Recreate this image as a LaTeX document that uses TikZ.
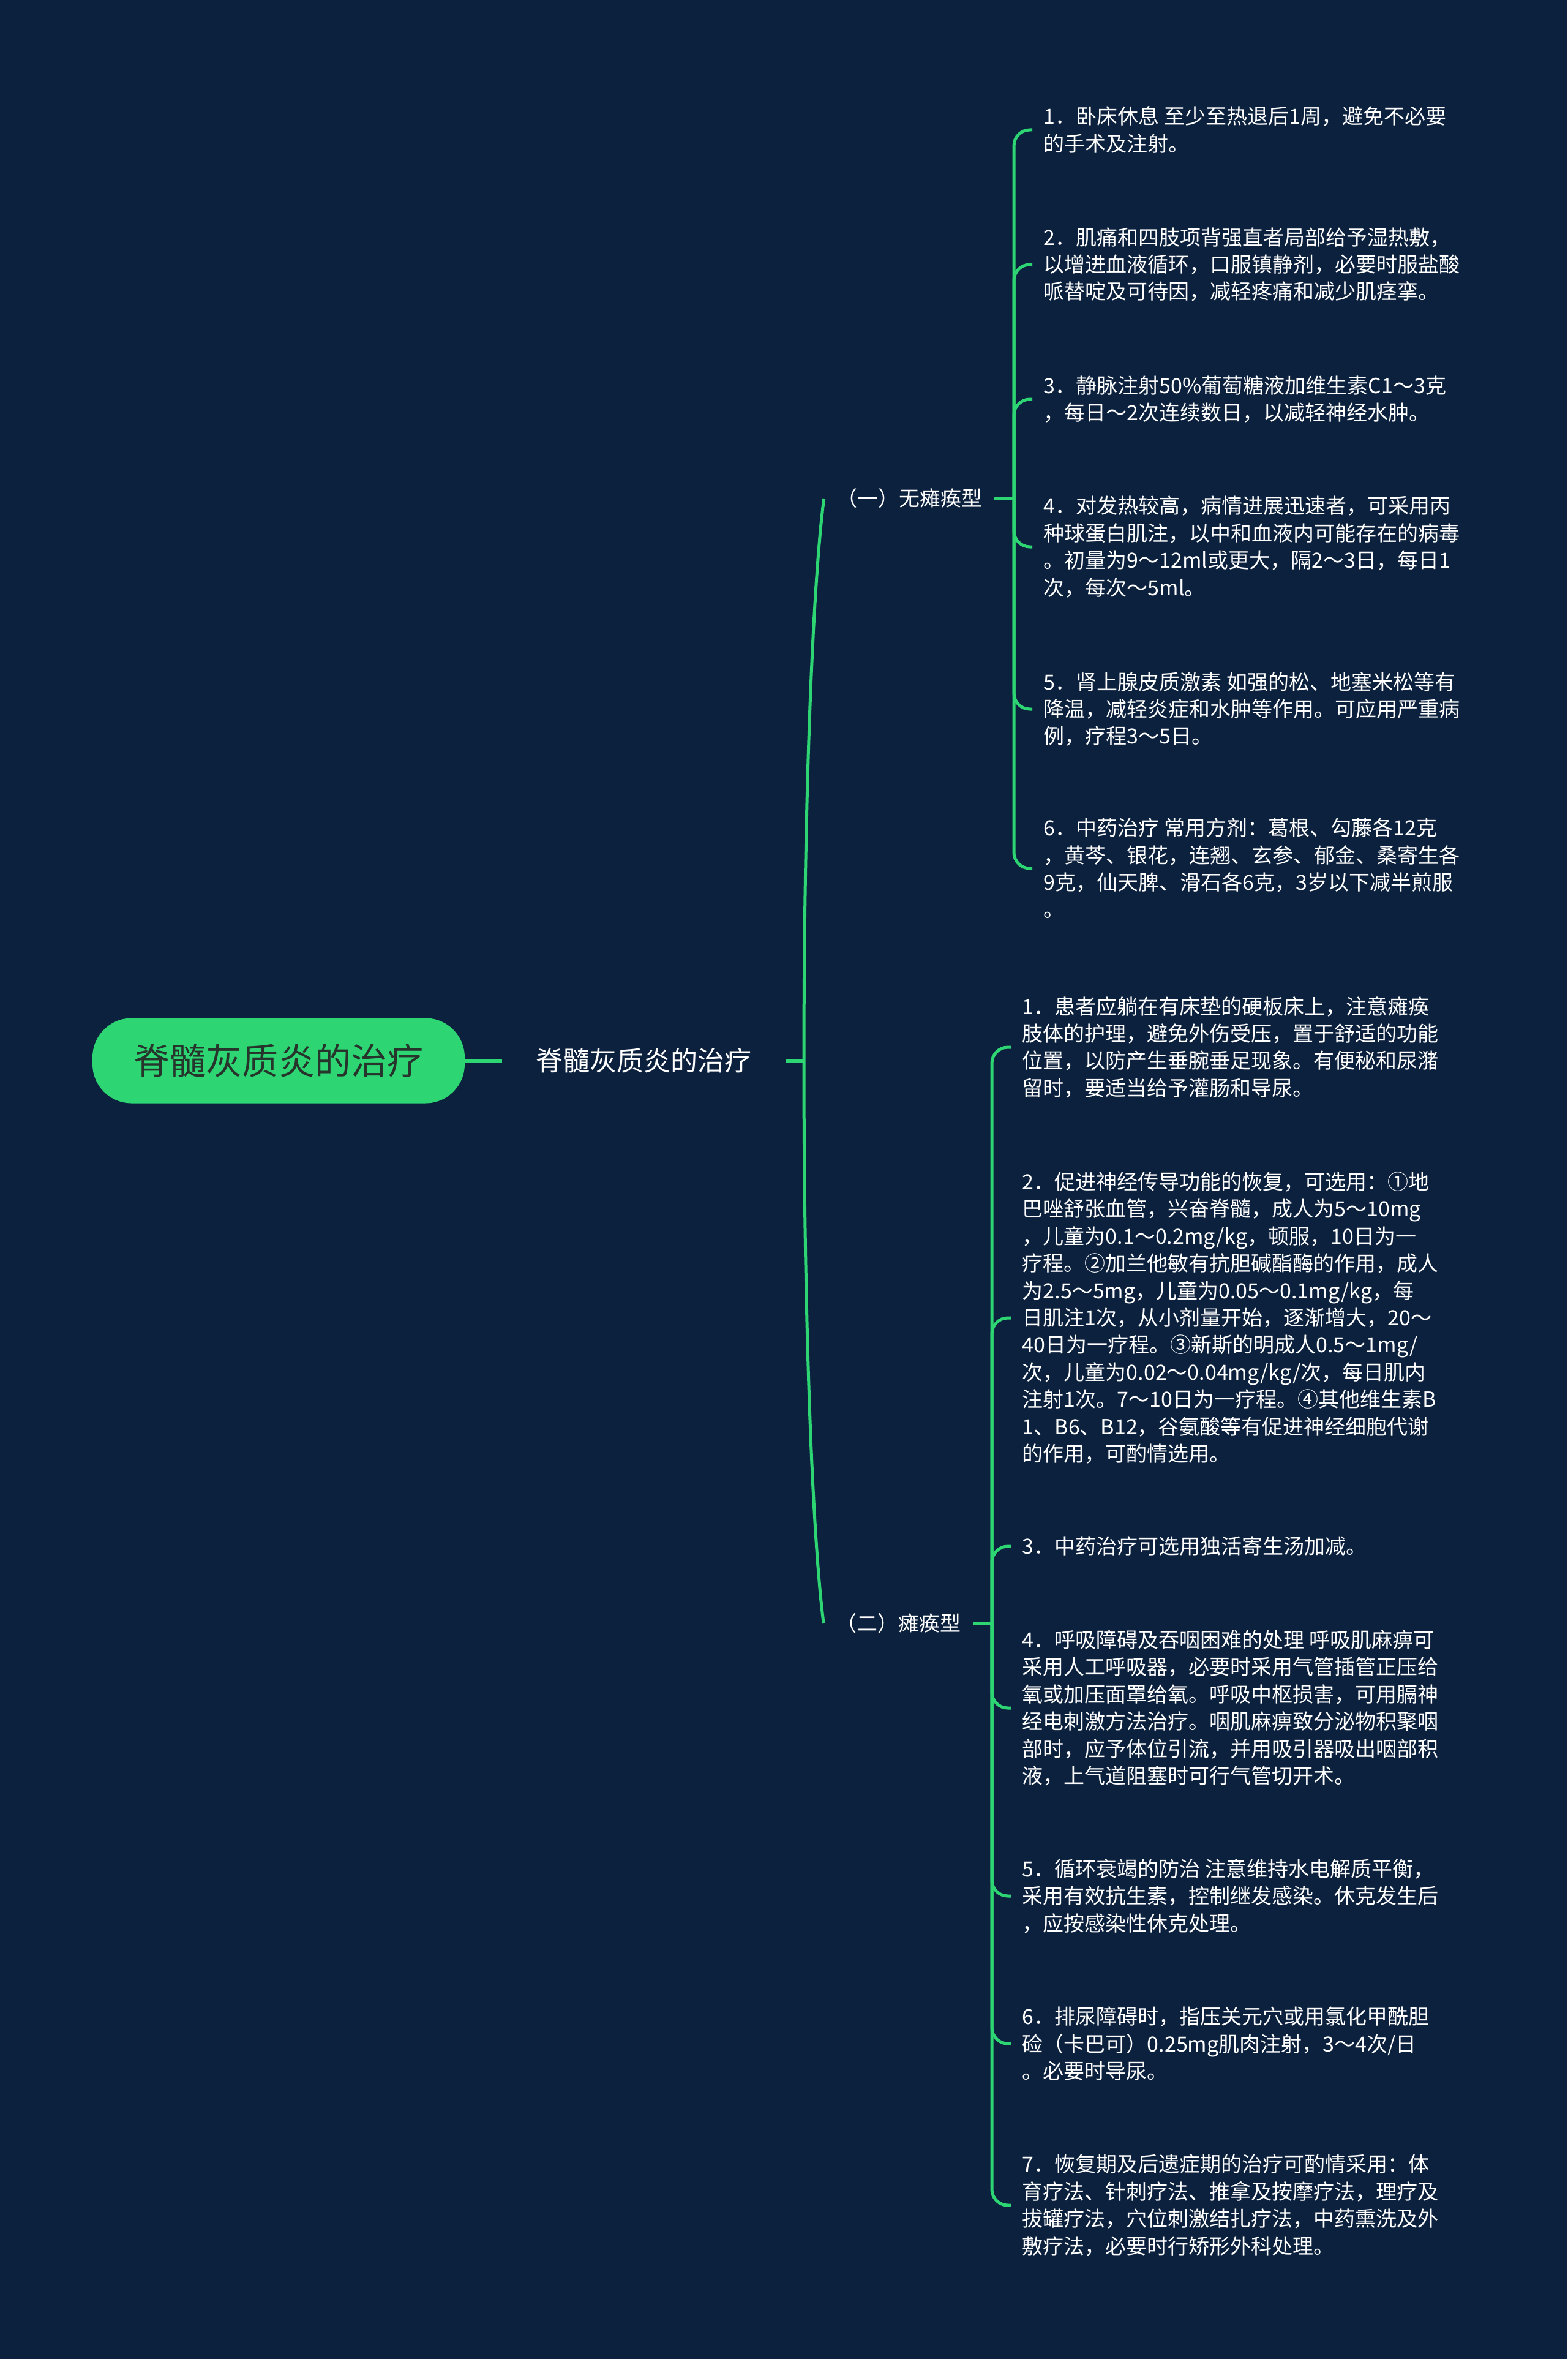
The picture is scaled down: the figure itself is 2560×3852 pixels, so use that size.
\documentclass[tikz,border=0pt]{standalone}
\usepackage{fontspec}
\setmainfont{Noto Sans CJK SC}
\usepackage{tikz}
\usetikzlibrary{calc}
\definecolor{grund}{RGB}{12,33,62}
\definecolor{zweig}{RGB}{46,213,115}
\definecolor{kern}{RGB}{38,52,44}

\begin{document}
\begin{tikzpicture}[x=0.25pt, y=-0.25pt,
	ast/.style={draw=zweig, line width=1.25pt},
	knick/.style={ast, rounded corners=6.5pt},
	typ/.style={text=white, inner sep=0pt, font=\fontsize{8.5pt}{11.1pt}\selectfont},
	blatt/.style={anchor=west, align=left, text=white, inner xsep=4.5pt, inner ysep=0pt, font=\fontsize{8.5pt}{11.1pt}\selectfont}]

	\fill[grund] (0,0) rectangle (2560,3852);

	\node[fill=zweig, rounded corners=16pt, minimum width=152pt, minimum height=34.75pt, inner sep=0pt, text=kern, font=\fontsize{14.8pt}{16pt}\selectfont] (wurzel) at (455,1732) {脊髓灰质炎的治疗};
	\node[text=white, minimum width=115.25pt, inner sep=0pt, font=\fontsize{11pt}{13pt}\selectfont] (thema) at (1051.5,1732) {脊髓灰质炎的治疗};

	\node[typ, minimum width=69.25pt] (typ1) at (1485,814) {（一）无瘫痪型};
	\node[typ, minimum width=60.75pt] (typ2) at (1467.5,2651) {（二）瘫痪型};

	\coordinate (mitte) at (1313,1732);
	\coordinate (t1) at (1656,814);
	\coordinate (t2) at (1620,2651);

	\draw[ast] (wurzel.east) -- (thema.west);
	\draw[ast] (thema.east) -- (mitte);
	\draw[ast] (mitte) .. controls +(0,-432) and +(-18,138) .. (typ1.west);
	\draw[ast] (mitte) .. controls +(0,432) and +(-18,-138) .. (typ2.west);
	\draw[ast] (typ1.east) -- (t1);
	\draw[ast] (typ2.east) -- (t2);

	% (一) 无瘫痪型
	\node[blatt] (a1) at (1686,212) {1．卧床休息 至少至热退后1周，避免不必要\\的手术及注射。};
	\node[blatt] (a2) at (1686,432) {2．肌痛和四肢项背强直者局部给予湿热敷，\\以增进血液循环，口服镇静剂，必要时服盐酸\\哌替啶及可待因，减轻疼痛和减少肌痉挛。};
	\node[blatt] (a3) at (1686,652) {3．静脉注射50\%葡萄糖液加维生素C1～3克\\，每日～2次连续数日，以减轻神经水肿。};
	\node[blatt] (a4) at (1686,893) {4．对发热较高，病情进展迅速者，可采用丙\\种球蛋白肌注，以中和血液内可能存在的病毒\\。初量为9～12ml或更大，隔2～3日，每日1\\次，每次～5ml。};
	\node[blatt] (a5) at (1686,1158) {5．肾上腺皮质激素 如强的松、地塞米松等有\\降温，减轻炎症和水肿等作用。可应用严重病\\例，疗程3～5日。};
	\node[blatt] (a6) at (1686,1418) {6．中药治疗 常用方剂：葛根、勾藤各12克\\，黄芩、银花，连翘、玄参、郁金、桑寄生各\\9克，仙天脾、滑石各6克，3岁以下减半煎服\\。};

	\foreach \n in {a1,a2,a3,a4,a5,a6}
		\draw[knick] (t1) |- (\n.west);

	% (二) 瘫痪型
	\node[blatt] (b1) at (1651,1710) {1．患者应躺在有床垫的硬板床上，注意瘫痪\\肢体的护理，避免外伤受压，置于舒适的功能\\位置，以防产生垂腕垂足现象。有便秘和尿潴\\留时，要适当给予灌肠和导尿。};
	\node[blatt] (b2) at (1651,2152) {2．促进神经传导功能的恢复，可选用：①地\\巴唑舒张血管，兴奋脊髓，成人为5～10mg\\，儿童为0.1～0.2mg/kg，顿服，10日为一\\疗程。②加兰他敏有抗胆碱酯酶的作用，成人\\为2.5～5mg，儿童为0.05～0.1mg/kg，每\\日肌注1次，从小剂量开始，逐渐增大，20～\\40日为一疗程。③新斯的明成人0.5～1mg/\\次，儿童为0.02～0.04mg/kg/次，每日肌内\\注射1次。7～10日为一疗程。④其他维生素B\\1、B6、B12，谷氨酸等有促进神经细胞代谢\\的作用，可酌情选用。};
	\node[blatt] (b3) at (1651,2525) {3．中药治疗可选用独活寄生汤加减。};
	\node[blatt] (b4) at (1651,2789) {4．呼吸障碍及吞咽困难的处理 呼吸肌麻痹可\\采用人工呼吸器，必要时采用气管插管正压给\\氧或加压面罩给氧。呼吸中枢损害，可用膈神\\经电刺激方法治疗。咽肌麻痹致分泌物积聚咽\\部时，应予体位引流，并用吸引器吸出咽部积\\液，上气道阻塞时可行气管切开术。};
	\node[blatt] (b5) at (1651,3096) {5．循环衰竭的防治 注意维持水电解质平衡，\\采用有效抗生素，控制继发感染。休克发生后\\，应按感染性休克处理。};
	\node[blatt] (b6) at (1651,3337) {6．排尿障碍时，指压关元穴或用氯化甲酰胆\\硷（卡巴可）0.25mg肌肉注射，3～4次/日\\。必要时导尿。};
	\node[blatt] (b7) at (1651,3601) {7．恢复期及后遗症期的治疗可酌情采用：体\\育疗法、针刺疗法、推拿及按摩疗法，理疗及\\拔罐疗法，穴位刺激结扎疗法，中药熏洗及外\\敷疗法，必要时行矫形外科处理。};

	\foreach \n in {b1,b2,b3,b4,b5,b6,b7}
		\draw[knick] (t2) |- (\n.west);

\end{tikzpicture}
\end{document}
